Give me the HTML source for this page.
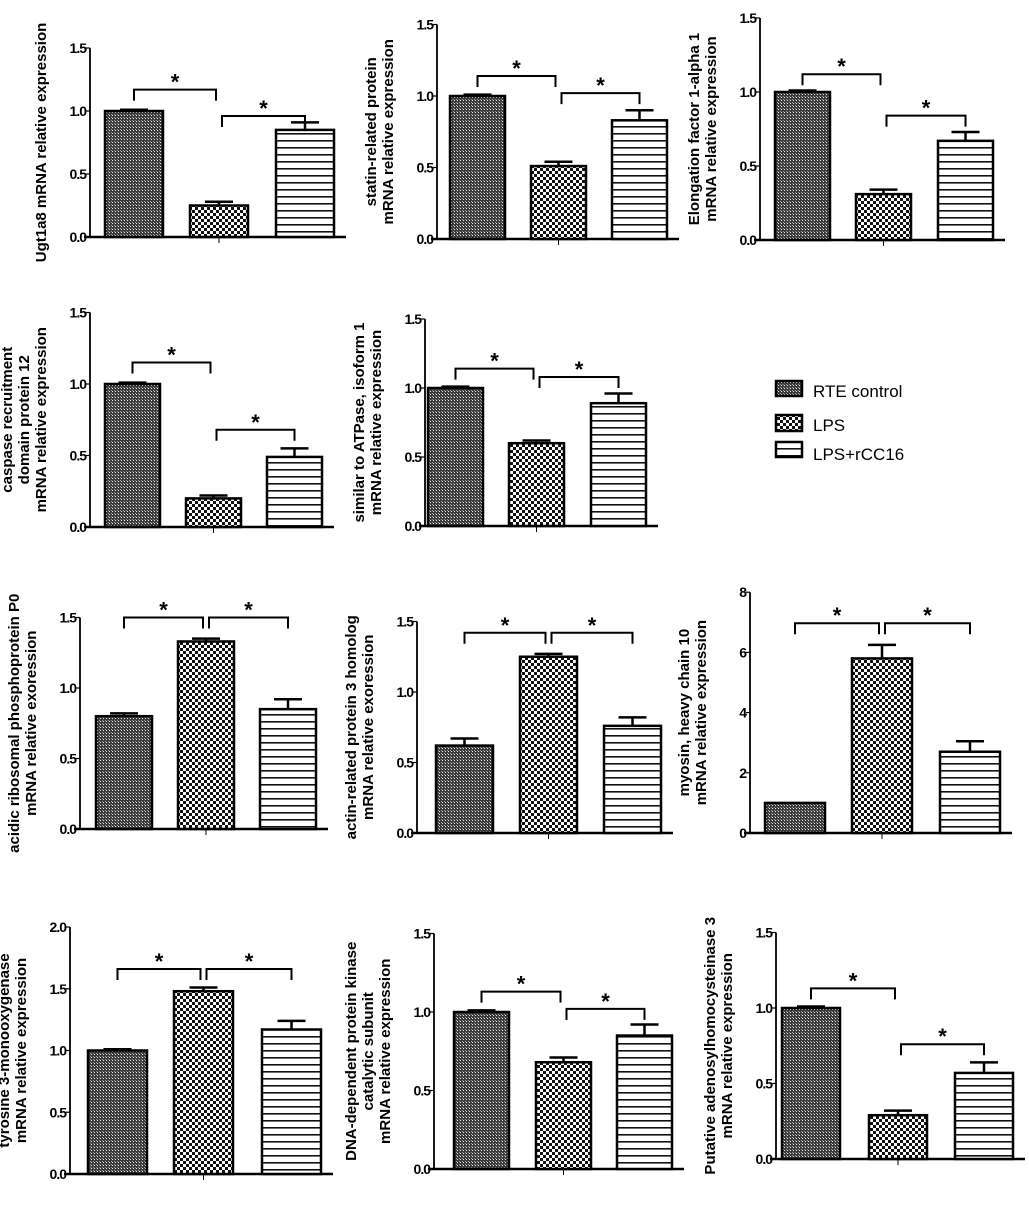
<!DOCTYPE html>
<html><head><meta charset="utf-8">
<style>
html,body{margin:0;padding:0;background:#fff;}
svg{display:block;font-family:"Liberation Sans",Arial,sans-serif;}
</style></head>
<body>
<svg id="fig" width="1029" height="1205" viewBox="0 0 1029 1205" xmlns="http://www.w3.org/2000/svg">
<defs>
<pattern id="pRTE" width="3" height="3" patternUnits="userSpaceOnUse">
<rect width="3" height="3" fill="#3a3a3a"/><rect x="1" y="1" width="1" height="1" fill="#e8e8e8"/><rect x="0" y="0" width="1" height="1" fill="#9a9a9a"/>
</pattern>
<pattern id="pLPS" width="6" height="6" patternUnits="userSpaceOnUse">
<rect width="6" height="6" fill="#fff"/><rect width="3" height="3" fill="#111"/><rect x="3" y="3" width="3" height="3" fill="#111"/>
</pattern>
<pattern id="pCC" width="7" height="7" patternUnits="userSpaceOnUse">
<rect width="7" height="7" fill="#fff"/><rect y="0" width="7" height="1.6" fill="#111"/>
</pattern>
</defs>
<g id="panels"></g>
<g>
<rect x="776" y="381" width="26" height="15" fill="url(#pRTE)" stroke="#000" stroke-width="2.5"/>
<text x="813" y="397" font-size="17">RTE control</text>
<rect x="776" y="415" width="26" height="16" fill="url(#pLPS)" stroke="#000" stroke-width="2.5"/>
<text x="813" y="431" font-size="17">LPS</text>
<rect x="776" y="442" width="26" height="15" fill="url(#pCC)" stroke="#000" stroke-width="2.5"/>
<text x="813" y="460" font-size="17">LPS+rCC16</text>
</g>
</svg>
<script>
// ---- data ----
const groups = ["RTE control", "LPS", "LPS+rCC16"];
const titles = [
 ["Ugt1a8 mRNA relative expression"],
 ["statin-related protein","mRNA relative expression"],
 ["Elongation factor 1-alpha 1","mRNA relative expression"],
 ["caspase recruitment","domain protein 12","mRNA relative expression"],
 ["similar to ATPase, isoform 1","mRNA relative expression"],
 ["acidic ribosomal phosphoprotein P0","mRNA relative exoression"],
 ["actin-related protein 3 homolog","mRNA relative exoression"],
 ["myosin, heavy chain 10","mRNA relative expression"],
 ["tyrosine 3-monooxygenase","mRNA relative expression"],
 ["DNA-dependent protein kinase","catalytic subunit","mRNA relative expression"],
 ["Putative adenosylhomocysteinase 3","mRNA relative expression"]
];
const means = [
 [1.0,0.25,0.85],[1.0,0.51,0.83],[1.0,0.31,0.67],
 [1.0,0.20,0.49],[1.0,0.60,0.89],
 [0.80,1.33,0.85],[0.62,1.25,0.76],[1.0,5.8,2.7],
 [1.0,1.48,1.17],[1.0,0.68,0.85],[1.0,0.29,0.57]
];
const errors = [
 [0.01,0.03,0.06],[0.01,0.03,0.07],[0.01,0.03,0.06],
 [0.01,0.02,0.06],[0.01,0.02,0.07],
 [0.02,0.02,0.07],[0.05,0.02,0.06],[0.0,0.45,0.35],
 [0.01,0.03,0.07],[0.01,0.03,0.07],[0.01,0.03,0.07]
];
const yMaxes = [1.5,1.5,1.5,1.5,1.5,1.5,1.5,8,2.0,1.5,1.5];
const tickSets = [
 ["0.0","0.5","1.0","1.5"],["0.0","0.5","1.0","1.5"],["0.0","0.5","1.0","1.5"],
 ["0.0","0.5","1.0","1.5"],["0.0","0.5","1.0","1.5"],
 ["0.0","0.5","1.0","1.5"],["0.0","0.5","1.0","1.5"],["0","2","4","6","8"],
 ["0.0","0.5","1.0","1.5","2.0"],["0.0","0.5","1.0","1.5"],["0.0","0.5","1.0","1.5"]
];
// significance bracket levels (data units): [first pair, second pair]
const bracketLevels = [
 [1.17,0.96],[1.14,1.02],[1.12,0.84],
 [1.15,0.68],[1.14,1.08],
 [1.50,1.50],[1.42,1.42],[6.97,6.97],
 [1.66,1.66],[1.13,1.02],[1.13,0.76]
];
// ---- layout (pixel geometry) ----
const layout = [
 {ax:90,y0:237,unit:126,bars:[105,190,276],bw:58},
 {ax:437,y0:239,unit:143,bars:[450,531,612],bw:55},
 {ax:760,y0:240,unit:148,bars:[775,856,938],bw:55},
 {ax:90,y0:527,unit:143,bars:[105,186,267],bw:55},
 {ax:425,y0:526,unit:138,bars:[428,509,591],bw:55},
 {ax:80,y0:829,unit:141,bars:[96,178,260],bw:56},
 {ax:417,y0:833,unit:141,bars:[436,520,604],bw:57},
 {ax:750,y0:833,unit:30.1,bars:[765,852,940],bw:60},
 {ax:70,y0:1174,unit:123.5,bars:[88,174,262],bw:59},
 {ax:434,y0:1169,unit:157,bars:[454,536,617],bw:55},
 {ax:776,y0:1159,unit:151,bars:[782,869,955],bw:58}
];
const fills = ["url(#pRTE)","url(#pLPS)","url(#pCC)"];
const NS="http://www.w3.org/2000/svg";
const root=document.getElementById('panels');
function mk(tag,attrs,parent){const e=document.createElementNS(NS,tag);for(const k in attrs)e.setAttribute(k,attrs[k]);parent.appendChild(e);return e;}

layout.forEach((L,i)=>{
 const g=mk('g',{},root);
 
 
 const y=v=>L.y0-v*L.unit;
 const yTop=y(yMaxes[i]);
 const xEnd=L.bars[2]+L.bw+12;
 const ya=mk('line',{x1:L.ax,y1:yTop,x2:L.ax,y2:L.y0,stroke:'#000','stroke-width':1.8},g);
 
 
 const xa=mk('line',{x1:L.ax-6,y1:L.y0,x2:xEnd,y2:L.y0,stroke:'#000','stroke-width':2.5},g);
 
 
 const cx=L.bars[1]+L.bw/2;
 mk('line',{x1:cx,y1:L.y0,x2:cx,y2:L.y0+6,stroke:'#000','stroke-width':1},g);
 const n=tickSets[i].length;
 tickSets[i].forEach((t,k)=>{
  const v=yMaxes[i]*k/(n-1), ty=y(v);
  mk('line',{x1:L.ax-4,y1:ty,x2:L.ax,y2:ty,stroke:'#000','stroke-width':1.2},g);
  const tx=mk('text',{x:L.ax-4,y:ty+5,'font-size':14,'font-weight':'bold','text-anchor':'end','letter-spacing':'-1'},g);
  tx.textContent=t;
  
  
 });
 const lines=titles[i], midY=(yTop+L.y0)/2;
 lines.forEach((ln,k)=>{
  const tx=L.ax-44-(lines.length-1-k)*17;
  const t=mk('text',{x:tx,y:midY,'font-size':15,'font-weight':'bold','text-anchor':'middle',transform:`rotate(-90 ${tx} ${midY})`},g);
  t.textContent=ln;
  
  
 });
 means[i].forEach((m,j)=>{
  const bx=L.bars[j], by=y(m);
  const r=mk('rect',{x:bx,y:by,width:L.bw,height:L.y0-by,fill:fills[j],stroke:'#000','stroke-width':2.5},g);
  
  
  const e=errors[i][j];
  if(e>0){
   const ex=bx+L.bw/2, ey=y(m+e);
   const el=mk('path',{d:`M${ex} ${by} V${ey} M${ex-14} ${ey} H${ex+14}`,stroke:'#000','stroke-width':2.5,fill:'none'},g);
   
   
  }
 });
 [[0,1],[1,2]].forEach((p,k)=>{
  const lv=y(bracketLevels[i][k]);
  const xa1=L.bars[p[0]]+L.bw/2+(k===1?3:0), xa2=L.bars[p[1]]+L.bw/2-(k===0?3:0);
  const b=mk('path',{d:`M${xa1} ${lv+11} V${lv} H${xa2} V${lv+11}`,stroke:'#000','stroke-width':2,fill:'none'},g);
  
  
  const s=mk('text',{x:(xa1+xa2)/2,y:lv,'font-size':22,'font-weight':'bold','text-anchor':'middle'},g);
  s.textContent='*';
  
  
 });
});
</script>
</body></html>
